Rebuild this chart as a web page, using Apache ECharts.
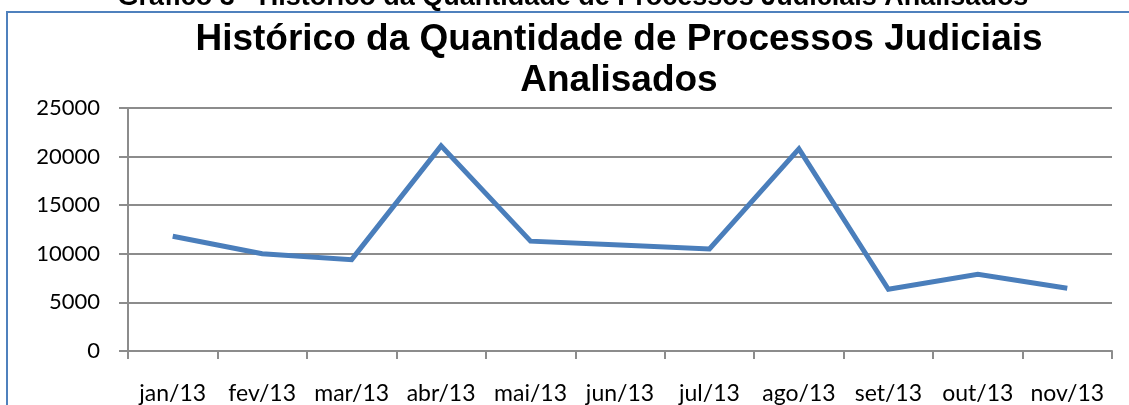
<!DOCTYPE html>
<html>
<head>
    <meta charset="UTF-8">
    <script type="text/javascript" src="https://cdn.jsdelivr.net/npm/echarts@6/dist/echarts.min.js"></script>
</head>
<body style="margin: 0;padding: 0;background:#fff;">
<div id="main" style="width: 1129px;height:405px;"></div>
<script>
    // dados
    var meses = ['jan/13', 'fev/13', 'mar/13', 'abr/13', 'mai/13', 'jun/13', 'jul/13', 'ago/13', 'set/13', 'out/13', 'nov/13']
    var processos = [11800, 10000, 9400, 21100, 11300, 10900, 10500, 20800, 6350, 7900, 6450]
    var yTicks = [0, 5000, 10000, 15000, 20000, 25000]

    var chart = echarts.init(document.getElementById('main'));
    var gray = '#8c8c8c'

    var option = {
        backgroundColor: '#ffffff',
        animation: false,
        graphic: [
            {
                type: 'rect',
                shape: {x: 7, y: 12, width: 1200, height: 500},
                style: {fill: 'none', stroke: '#4f81bd', lineWidth: 2}
            },
            {
                type: 'text',
                x: 573, y: 11,
                style: {
                    text: 'Gráfico 3 - Histórico da Quantidade de Processos Judiciais Analisados',
                    font: 'bold 27px "Liberation Sans", Arial',
                    fill: '#000',
                    align: 'center',
                    verticalAlign: 'bottom'
                }
            },
            {
                type: 'text',
                x: 619, y: 40,
                style: {
                    text: 'Histórico da Quantidade de Processos Judiciais',
                    font: 'bold 37px "Liberation Sans", Arial',
                    fill: '#000',
                    align: 'center',
                    verticalAlign: 'middle'
                }
            },
            {
                type: 'text',
                x: 619, y: 81,
                style: {
                    text: 'Analisados',
                    font: 'bold 37px "Liberation Sans", Arial',
                    fill: '#000',
                    align: 'center',
                    verticalAlign: 'middle'
                }
            }
        ],
        grid: {left: 128, right: 17, top: 108, bottom: 54},
        xAxis: {
            type: 'category',
            data: meses,
            boundaryGap: true,
            axisLine: {lineStyle: {color: gray, width: 2}},
            axisTick: {show: true, length: 8, lineStyle: {color: gray, width: 2}},
            axisLabel: {
                color: '#000', fontFamily: 'Lato', fontSize: 23, margin: 31, interval: 0
            }
        },
        yAxis: {
            type: 'value',
            min: yTicks[0],
            max: yTicks[yTicks.length - 1],
            interval: 5000,
            axisLine: {show: true, lineStyle: {color: gray, width: 2}},
            axisTick: {show: true, length: 9, lineStyle: {color: gray, width: 2}},
            axisLabel: {
                color: '#000', fontFamily: 'Lato', fontSize: 22, margin: 28,
                formatter: function (v) { return String(v) }
            },
            splitLine: {lineStyle: {color: gray, width: 2}}
        },
        series: [{
            type: 'line',
            data: processos,
            showSymbol: false,
            symbol: 'none',
            lineStyle: {color: '#4a7ebb', width: 5, join: 'miter'}
        }]
    };
    chart.setOption(option);
</script>
</body>
</html>
